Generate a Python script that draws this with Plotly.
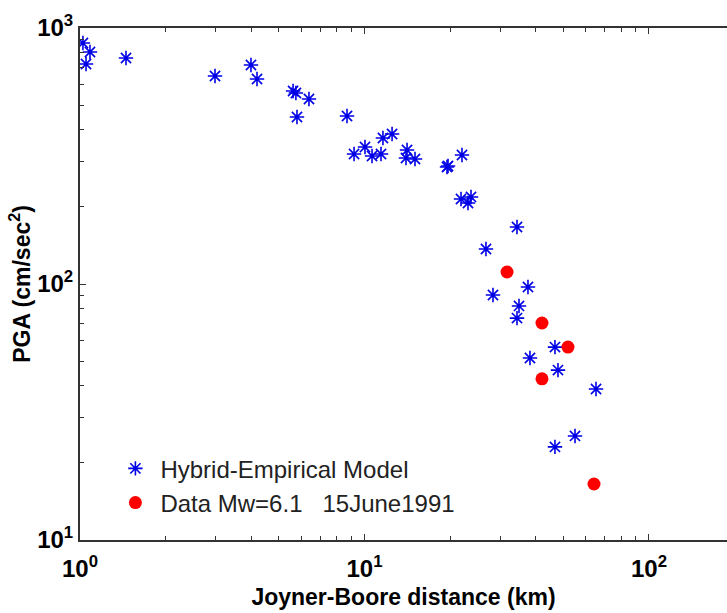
import plotly.graph_objects as go

# Hybrid-Empirical Model (Joyner-Boore distance km, PGA cm/s^2)
model_dist = [1.024, 1.084, 1.050, 1.451, 2.982, 3.99, 4.19, 5.61, 5.74, 6.38,
              5.79, 8.68, 9.19, 10.04, 10.63, 11.43, 11.61, 12.50, 14.11, 13.99,
              15.05, 19.66, 19.50, 22.01, 21.84, 23.68, 23.11, 26.73, 34.36, 37.55,
              28.29, 34.92, 34.36, 46.72, 38.16, 47.87, 65.14, 54.95, 46.72]
model_pga = [873.6, 805.8, 723.5, 763.6, 649.4, 717.1, 632.1, 567.5, 557.4, 528.1,
             449.1, 453.2, 322.0, 342.9, 316.2, 322.0, 371.8, 385.4, 333.8, 310.6,
             307.8, 289.0, 286.4, 319.1, 214.8, 218.8, 207.2, 137.0, 167.0, 97.3,
             90.6, 82.1, 73.6, 56.7, 51.4, 46.1, 38.9, 25.5, 23.1]

# Recorded data Mw=6.1, 15 June 1991
data_dist = [31.70, 42.06, 51.91, 42.06, 64.09]
data_pga = [111.4, 70.4, 56.7, 42.6, 16.55]

x_tickvals = [1, 10, 100]
x_ticktext = ["10<sup>0</sup>", "10<sup>1</sup>", "10<sup>2</sup>"]
y_tickvals = [10, 100, 1000]
y_ticktext = ["10<sup>1</sup>", "10<sup>2</sup>", "10<sup>3</sup>"]
x_minor = [2, 3, 4, 5, 6, 7, 8, 9, 20, 30, 40, 50, 60, 70, 80, 90, 200, 300]
y_minor = [20, 30, 40, 50, 60, 70, 80, 90, 200, 300, 400, 500, 600, 700, 800, 900]

FONT = "Liberation Sans, Arial, sans-serif"
AX = "#333333"

fig = go.Figure()
fig.add_trace(go.Scatter(
    x=model_dist, y=model_pga, mode="markers", name="Hybrid-Empirical Model",
    marker=dict(symbol="asterisk-open", size=12, color="#0000e6",
                line=dict(color="#0000e6", width=1.6)),
))
fig.add_trace(go.Scatter(
    x=data_dist, y=data_pga, mode="markers", name="Data Mw=6.1   15June1991",
    marker=dict(symbol="circle", size=13, color="#ff0000"),
))

axis_common = dict(
    type="log", showgrid=False, zeroline=False, showline=True,
    linecolor=AX, linewidth=2, ticks="inside", ticklen=6, tickwidth=1.2,
    tickcolor=AX,
    tickfont=dict(family=FONT, size=24, color="black", weight="bold"),
)

fig.update_xaxes(
    **axis_common, range=[0, 2.2742], mirror="ticks",
    tickmode="array", tickvals=x_tickvals, ticktext=x_ticktext,
    ticklabelstandoff=6,
    minor=dict(ticks="inside", ticklen=4, tickcolor=AX, tickvals=x_minor),
    title=dict(text="Joyner-Boore distance (km)", standoff=8,
               font=dict(family=FONT, size=23, color="black", weight="bold")),
)
fig.update_yaxes(
    **axis_common, range=[1, 3], mirror=False,
    tickmode="array", tickvals=y_tickvals, ticktext=y_ticktext,
    minor=dict(ticks="inside", ticklen=4, tickcolor=AX, tickvals=y_minor),
    title=dict(text="PGA (cm/sec<sup>2</sup>)", standoff=0,
               font=dict(family=FONT, size=23, color="black", weight="bold")),
)

fig.update_layout(
    width=727, height=613,
    margin=dict(l=80, r=0, t=28, b=73),
    paper_bgcolor="white", plot_bgcolor="white",
    showlegend=True,
    legend=dict(x=0.047, y=0.183, xanchor="left", yanchor="top",
                bgcolor="rgba(0,0,0,0)", borderwidth=0,
                font=dict(family=FONT, size=24, color="#222222"),
                itemwidth=40),
)

fig.write_html("out.html")
